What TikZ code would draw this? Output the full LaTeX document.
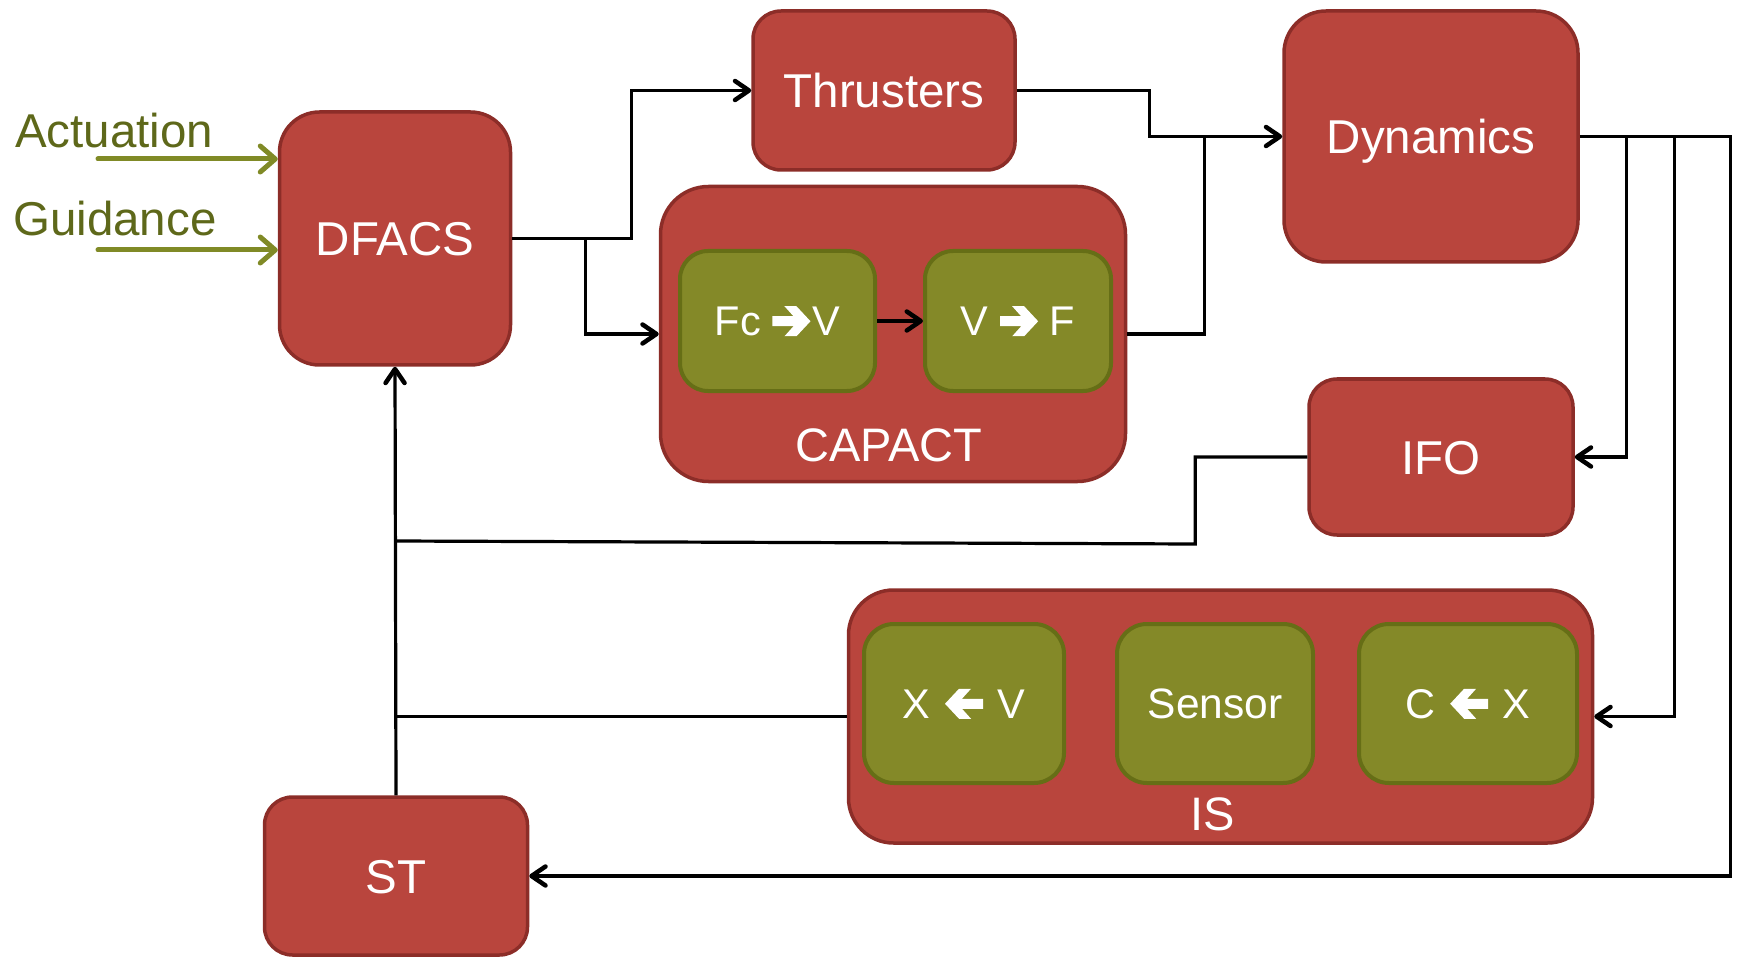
\documentclass[tikz,border=0pt]{standalone}
\usepackage{fontspec}
\setmainfont{Liberation Sans}
\usetikzlibrary{arrows.meta}
\definecolor{redfill}{HTML}{B9453D}
\definecolor{redline}{HTML}{8C2D28}
\definecolor{grnfill}{HTML}{848928}
\definecolor{grnline}{HTML}{666E16}
\definecolor{olivetext}{HTML}{5E681A}
\definecolor{olivearrow}{HTML}{808A26}
\newcommand{\rarr}{\tikz[baseline=-14.75pt, x=1pt, y=1pt, sharp corners]
  \fill[white] (0,5) -- (21,5) -- (12,15) -- (24,15) -- (38,0) -- (24,-15) -- (12,-15) -- (21,-5) -- (0,-5) -- cycle;}
\newcommand{\larr}{\tikz[baseline=-14.75pt, x=1pt, y=1pt, sharp corners]
  \fill[white] (38,5) -- (17,5) -- (26,15) -- (14,15) -- (0,0) -- (14,-15) -- (26,-15) -- (17,-5) -- (38,-5) -- cycle;}
\begin{document}
\begin{tikzpicture}[x=1pt,y=-1pt,
  redbox/.style={draw=redline, fill=redfill, line width=3.5pt, inner sep=0pt,
    text=white, font=\fontsize{47.5}{57}\selectfont, text height=34pt, text depth=0pt},
  grnbox/.style={draw=grnline, fill=grnfill, line width=4pt, inner sep=0pt,
    text=white, font=\fontsize{41.5}{50}\selectfont, text height=30pt, text depth=0pt},
  grplabel/.style={text=white, font=\fontsize{47}{56}\selectfont, anchor=base, inner sep=0pt},
  inlabel/.style={text=olivetext, font=\fontsize{47.5}{57}\selectfont, anchor=base west, inner sep=0pt},
  conn/.style={draw=black, line width=3.2pt},
  tip/.style={-{Straight Barb[length=14pt,width=19pt,line width=4.5pt,round]}},
  olivearr/.style={draw=olivearrow, line width=5pt, line cap=round,
    -{Straight Barb[length=15pt,width=26pt,round]}}
]
\useasboundingbox (0,0) rectangle (1737,957);

% group boxes
\node[redbox, rounded corners=48pt, minimum width=465pt, minimum height=295pt] (capact) at (893,334) {};
\node[redbox, rounded corners=45pt, minimum width=744pt, minimum height=253pt] (is) at (1220.5,716.5) {};
\node[grplabel] (capactlbl) at (889,461) {CAPACT};
\node[grplabel] (islbl) at (1213,830) {IS};

% main blocks
\node[redbox, rounded corners=40pt, minimum width=231pt, minimum height=253pt] (dfacs) at (395,238.5) {DFACS};
\node[redbox, rounded corners=28pt, minimum width=262pt, minimum height=159pt] (thr) at (884,90.5) {Thrusters};
\node[redbox, rounded corners=42pt, minimum width=294pt, minimum height=251pt] (dyn) at (1431,136.5) {Dynamics};
\node[redbox, rounded corners=28pt, minimum width=264pt, minimum height=156pt] (ifo) at (1441,457) {IFO};
\node[redbox, rounded corners=28pt, minimum width=263pt, minimum height=158pt] (st) at (396,876) {ST};

% inner blocks
\node[grnbox, rounded corners=28pt, minimum width=195pt, minimum height=140pt] (fcv) at (777.5,321) {Fc \rarr\kern2pt V};
\node[grnbox, rounded corners=28pt, minimum width=186pt, minimum height=140pt] (vf) at (1018,321) {V \rarr\ F};
\node[grnbox, rounded corners=30pt, minimum width=200pt, minimum height=159pt] (xv) at (964,703.5) {X\kern3pt\ \larr\ \kern3pt V};
\node[grnbox, rounded corners=30pt, minimum width=196pt, minimum height=159pt, font=\fontsize{42.5}{50}\selectfont, text height=30.5pt] (sensor) at (1215,703.5) {Sensor};
\node[grnbox, rounded corners=30pt, minimum width=218pt, minimum height=159pt] (cx) at (1468,703.5) {C\kern3pt\ \larr\ \kern3pt X};

% inputs
\node[inlabel] (act) at (15,148) {Actuation};
\node[inlabel] (gui) at (13,236) {Guidance};
\coordinate (actS) at (98,159);
\coordinate (guiS) at (98,250);
\draw[olivearr] (actS) -- (actS -| dfacs.west);
\draw[olivearr] (guiS) -- (guiS -| dfacs.west);

% connectors
\draw[conn, tip] (dfacs.east) -| ([xshift=-120pt]thr.west) -- (thr.west);
\draw[conn, tip] ([xshift=73pt]dfacs.east) |- (capact.west);
\draw[conn, tip] (fcv.east) -- (vf.west);
\draw[conn, tip] (capact.east) -| ([xshift=-78pt]dyn.west) -- (dyn.west);
\draw[conn] (thr.east) -| ([xshift=-133pt]dyn.west) -- ([xshift=-78pt]dyn.west);
\draw[conn, tip] (dyn.east) -- ++(151,0) |- (st.east);
\draw[conn, tip] ([xshift=47pt]dyn.east) |- (ifo.east);
\draw[conn, tip] ([xshift=95pt]dyn.east) |- (is.east);
\coordinate (jifo) at (395,541);
\draw[conn] (ifo.west) -- ++(-112,0) -- ++(0,87) -- (jifo);
\draw[conn] (is.west) -- (is.west -| st.north);
\draw[conn, tip] (st.north) -- (dfacs.south);
\end{tikzpicture}
\end{document}
